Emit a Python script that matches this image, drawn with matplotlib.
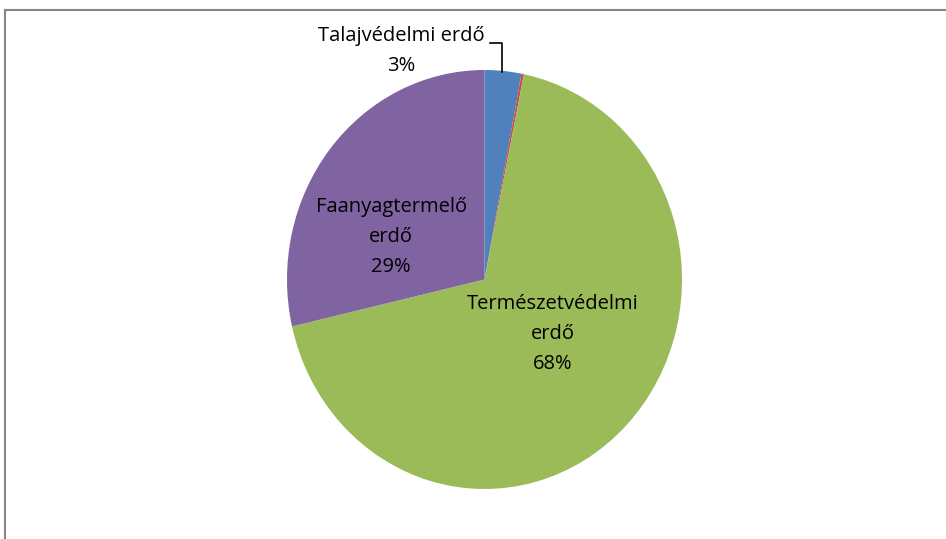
import matplotlib.pyplot as plt
from matplotlib.lines import Line2D

plt.rcParams["font.family"] = ["Open Sans", "DejaVu Sans"]

# ----- data -----
categories = ["Talajvédelmi\u00a0erdő", "", "Természetvédelmi\nerdő", "Faanyagtermelő\nerdő"]
shares = [3.0, 0.2, 68.2, 28.6]
colors = ["#4F81BD", "#C0504D", "#9BBB59", "#8064A2"]

# label positions in the (stretched) pie coordinates
label_pos = [(-0.42, 1.09), None, (0.347, -0.26), (-0.473, 0.203)]

W, H = 946, 539
fig = plt.figure(figsize=(W / 100, H / 100), dpi=100)

# chart border: only top and left edges are visible in the original crop
fig.add_artist(Line2D([4.5 / W, 1.0], [1 - 9.5 / H, 1 - 9.5 / H], transform=fig.transFigure,
                      color="#868686", linewidth=1.5))
fig.add_artist(Line2D([4.5 / W, 4.5 / W], [0, 1 - 9.5 / H], transform=fig.transFigure,
                      color="#868686", linewidth=1.5))

# pie box (slightly taller than wide, like the original)
ax = fig.add_axes([287 / W, (H - 489) / H, 395 / W, 419 / H])
ax.pie(shares, colors=colors, startangle=90, counterclock=False, radius=1,
       wedgeprops=dict(linewidth=0))
ax.set_aspect("auto")
ax.set_xlim(-1, 1)
ax.set_ylim(-1, 1)
ax.axis("off")

for name, val, pos in zip(categories, shares, label_pos):
    if pos is None:
        continue
    ax.text(pos[0], pos[1], f"{name}\n{round(val):d}%", ha="center", va="center",
            fontsize=14.5, linespacing=1.65, color="black", clip_on=False)

# leader line for the small slice
ax.plot([0.03, 0.088, 0.088], [1.13, 1.13, 0.99], color="black", linewidth=1.2,
        clip_on=False)

fig.savefig("out.png", dpi=100)
